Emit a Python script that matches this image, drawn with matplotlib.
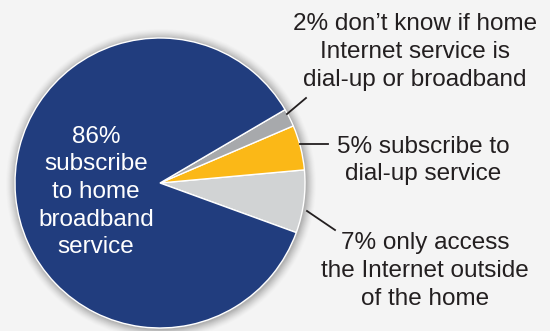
import numpy as np
import matplotlib.pyplot as plt
from matplotlib.patches import Circle

plt.rcParams['font.family'] = ['Liberation Sans', 'DejaVu Sans']

# data (counterclockwise from the light gray wedge)
shares = [7, 5, 2, 86]
colors = ['#d1d3d4', '#fbb817', '#a7a9ac', '#213d7e']
labels = ['7% only access\nthe Internet outside\nof the home',
          '5% subscribe to\ndial-up service',
          '2% don\u2019t know if home\nInternet service is\ndial-up or broadband',
          '86%\nsubscribe\nto home\nbroadband\nservice']

W, H = 550, 331
cx, cy, R = 160, H - 183, 145

fig = plt.figure(figsize=(5.5, 3.31), dpi=100)
fig.patch.set_facecolor('#f4f4f4')
ax = fig.add_axes([0, 0, 1, 1])

# soft shadow round the pie
for k in range(10):
    ax.add_patch(Circle((cx + 1, cy - 1), R + 10 - k, color='#000000',
                        alpha=0.012 + 0.004 * k, lw=0, zorder=1))

wedges, _ = ax.pie(shares, colors=colors, startangle=-20, counterclock=True,
                   center=(cx, cy), radius=R, frame=True,
                   wedgeprops=dict(edgecolor='white', linewidth=1.0, zorder=2))
ax.set_xlim(0, W)
ax.set_ylim(0, H)
ax.set_aspect('equal')
ax.axis('off')

# big wedge label
ax.text(96, H - 192, labels[3], color='white', fontsize=17.5, ha='center',
        va='center', linespacing=1.33, zorder=5)

# outside labels with leader lines
text_pos = [(425, H - 271), (423, H - 160.5), (415, H - 52)]
leader_start = [(307, H - 211), (300, H - 144), (287, H - 114)]
leader_end = [(335, H - 230), (328, H - 144), (306, H - 98)]
for i in range(3):
    ax.plot([leader_start[i][0], leader_end[i][0]],
            [leader_start[i][1], leader_end[i][1]], color='#231f20', lw=1.3,
            zorder=4)
    ax.text(text_pos[i][0], text_pos[i][1], labels[i], color='#231f20',
            fontsize=17.5, ha='center', va='center', linespacing=1.33)

fig.savefig('out.png', dpi=100, facecolor=fig.get_facecolor())
